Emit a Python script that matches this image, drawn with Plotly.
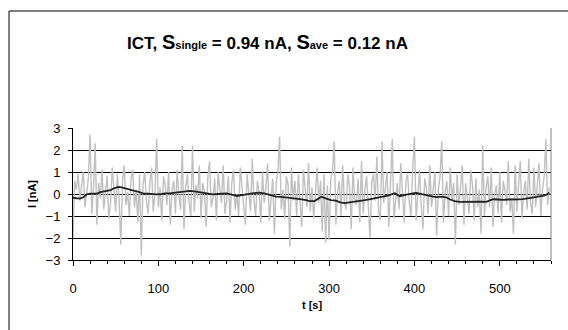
import plotly.graph_objects as go

# raw single-shot current (every 2 s)
t_single = [2 * i for i in range(280)]
i_single = [
    -2.0, 0.6, 0.2, 0.9, -0.3, 0.4, 1.0, -0.6, 0.1, 0.7,
    2.7, -0.9, 0.3, 2.3, -1.4, 0.5, -0.2, 1.1, -0.7, 0.2,
    0.8, -1.1, -0.4, 1.2, 0.3, -0.8, 0.9, -0.2, -2.3, 0.6,
    1.3, -0.5, 0.1, -1.0, 0.7, 1.1, -0.6, 0.2, -1.3, 0.9,
    -2.8, 0.4, 1.0, -0.3, -0.9, 0.5, 1.2, -0.8, 0.0, 2.5,
    -0.6, 0.3, -1.2, 0.8, 0.4, -0.5, 1.0, -1.4, 0.2, 0.6,
    -0.9, 1.1, -0.1, -0.7, 2.2, -1.6, 0.3, 0.9, -0.4, -1.0,
    2.2, -0.8, 0.4, -0.2, 1.3, -1.1, 0.5, 0.1, -1.5, 0.8,
    1.5, -0.6, -0.2, 0.7, -1.2, 1.0, 0.2, -0.4, 1.3, -0.9,
    -0.3, 0.8, -1.3, 0.5, 1.1, -0.7, 0.0, -1.0, 1.2, 0.4,
    -0.5, -1.4, 0.9, 0.2, -0.8, 1.6, -0.3, -1.0, 0.6, 0.1,
    -1.3, 1.0, -0.4, 0.3, 1.4, -1.2, -0.2, 0.7, -1.8, 0.5,
    1.0, 2.6, -0.7, 0.2, -1.1, 0.8, 0.4, -2.4, 1.2, -0.3,
    0.6, -1.0, 0.9, -0.5, -1.5, 1.1, 0.2, -0.6, 1.4, -0.8,
    0.3, -1.1, 0.0, 1.2, -0.4, 0.6, -1.7, 0.9, -2.2, 0.4,
    -2.1, 0.7, 1.0, 2.4, -1.4, 0.1, 0.6, -1.0, 1.3, -0.4,
    -0.7, 0.9, 0.3, -1.6, 1.2, -0.2, -0.5, 0.7, -1.3, 1.5,
    -0.9, 0.2, 0.8, -0.6, -2.0, 0.5, 0.9, -0.3, 1.7, -0.8,
    -1.2, 2.4, -0.4, 0.3, 1.0, -1.5, 0.2, 2.5, -1.1, -0.3,
    0.5, -0.7, 1.4, 0.1, -1.3, 0.6, 0.9, -0.4, -1.0, 1.2,
    2.6, -1.2, 0.2, 1.1, -0.6, -1.6, 0.7, 0.3, -0.9, 1.3,
    -0.6, 0.4, 1.0, -1.9, 0.2, 0.8, 2.4, -1.3, 0.1, 0.6,
    -1.0, 1.2, -0.3, 0.5, -2.3, 0.9, -0.5, 0.3, 1.3, -1.4,
    0.5, -0.2, -0.9, 1.1, 0.4, -1.2, 0.7, -0.6, 0.2, -1.8,
    2.2, -1.0, 0.3, 0.8, -0.6, 1.2, -1.5, 0.0, 0.4, -0.9,
    1.0, -1.3, 0.6, 0.2, -0.5, 1.5, -0.8, -0.2, -1.8, 1.3,
    -0.8, 0.4, 1.5, -1.1, 0.1, 0.6, -0.7, 1.6, -0.4, -0.9,
    1.2, -0.6, 0.3, 1.4, -1.0, 0.2, 0.8, 2.5, -0.5, 0.3,
]

# averaged current
t_ave = [0, 4, 8, 12, 16, 20, 24, 28, 32, 36, 40, 44, 48, 53, 57, 62, 67, 72, 77, 82,
         88, 93, 98, 104, 108, 113, 120, 126, 132, 137, 142, 148, 154, 159, 164, 170,
         175, 180, 186, 192, 198, 204, 210, 215, 219, 224, 230, 234, 238, 244, 250,
         256, 262, 268, 273, 277, 283, 287, 291, 296, 302, 308, 313, 318, 324, 330,
         336, 342, 347, 352, 358, 364, 370, 374, 377, 380, 383, 388, 393, 398, 402,
         407, 412, 418, 422, 426, 432, 437, 442, 447, 453, 460, 466, 472, 478, 484,
         488, 492, 498, 504, 510, 516, 522, 527, 532, 538, 544, 548, 552, 556, 558]
i_ave = [-0.17, -0.2, -0.21, -0.15, -0.02, 0.02, 0.03, 0.02, 0.08, 0.12, 0.14, 0.18,
         0.26, 0.32, 0.3, 0.24, 0.17, 0.14, 0.1, 0.03, 0.02, 0.0, -0.02, 0.0, 0.03,
         0.03, 0.06, 0.08, 0.12, 0.14, 0.12, 0.08, 0.04, 0.0, -0.02, 0.0, 0.03, 0.03,
         -0.03, -0.09, -0.05, 0.0, 0.03, 0.05, 0.06, 0.03, -0.02, -0.08, -0.12, -0.13,
         -0.15, -0.18, -0.21, -0.24, -0.28, -0.32, -0.32, -0.2, -0.12, -0.2, -0.28,
         -0.3, -0.38, -0.41, -0.38, -0.36, -0.32, -0.28, -0.24, -0.2, -0.17, -0.12,
         -0.06, 0.0, 0.03, -0.04, -0.1, -0.05, 0.0, 0.03, 0.05, 0.02, -0.03, -0.08,
         -0.12, -0.14, -0.12, -0.15, -0.25, -0.32, -0.36, -0.35, -0.34, -0.33, -0.35,
         -0.36, -0.3, -0.24, -0.25, -0.27, -0.25, -0.23, -0.24, -0.23, -0.2, -0.18,
         -0.15, -0.12, -0.07, 0.0, 0.06]

x_ticks = [0, 100, 200, 300, 400, 500]
y_ticks = [-3, -2, -1, 0, 1, 2, 3]

FONT = "Liberation Sans, Arial, sans-serif"

fig = go.Figure()
fig.add_trace(go.Scatter(x=t_single, y=i_single, mode="lines",
                         line=dict(color="#c0c0c0", width=1.4), showlegend=False))
fig.add_trace(go.Scatter(x=t_ave, y=i_ave, mode="lines",
                         line=dict(color="#222222", width=1.8), showlegend=False))

L, R, T, B = 73, 551, 128, 260
W, H = 568, 330

def px(x):
    return (x - L) / (R - L)

def py(y):
    return (B - y) / (B - T)

fig.update_layout(
    width=W, height=H,
    margin=dict(l=L, r=W - R, t=T, b=H - B, pad=0),
    paper_bgcolor="white", plot_bgcolor="white",
    font=dict(family=FONT, size=13, color="black"),
    xaxis=dict(range=[0, 560], tickvals=x_ticks, ticks="outside", ticklen=5,
               tickcolor="black", showgrid=False, zeroline=False, showline=True,
               linecolor="black", linewidth=1, ticklabelstandoff=11, automargin=False,
               minor=dict(dtick=20, tick0=0, ticks="outside", ticklen=3, tickcolor="black"),
               title=dict(text="<b>t [s]</b>", font=dict(size=11), standoff=6)),
    yaxis=dict(range=[-3, 3], tickvals=y_ticks, ticks="outside", ticklen=4,
               tickcolor="black", showgrid=True, gridcolor="black", gridwidth=1,
               zeroline=False, showline=True, linecolor="black", linewidth=1,
               ticklabelstandoff=5, automargin=False,
               title=dict(text="<b>I [nA]</b>", font=dict(size=11), standoff=6)),
    shapes=[
        dict(type="rect", xref="paper", yref="paper", x0=px(9), x1=px(580),
             y0=py(345), y1=py(11), line=dict(color="black", width=1)),
        dict(type="line", xref="paper", yref="paper", x0=1, x1=1, y0=0, y1=1,
             line=dict(color="#808080", width=1)),
    ],
    annotations=[
        dict(xref="paper", yref="paper", x=px(267), y=py(42), xanchor="center",
             yanchor="middle", showarrow=False,
             text="<b>ICT, <span style='font-size:20px'>S</span>"
                  "<span style='font-size:11px'>single</span> = 0.94 nA, "
                  "<span style='font-size:20px'>S</span>"
                  "<span style='font-size:11px'>ave</span> = 0.12 nA</b>",
             font=dict(size=17, family=FONT)),
    ],
)

fig.write_html("out.html",
               config={"displayModeBar": False},
               post_script="document.body.style.margin='0';document.body.style.overflow='hidden';")
